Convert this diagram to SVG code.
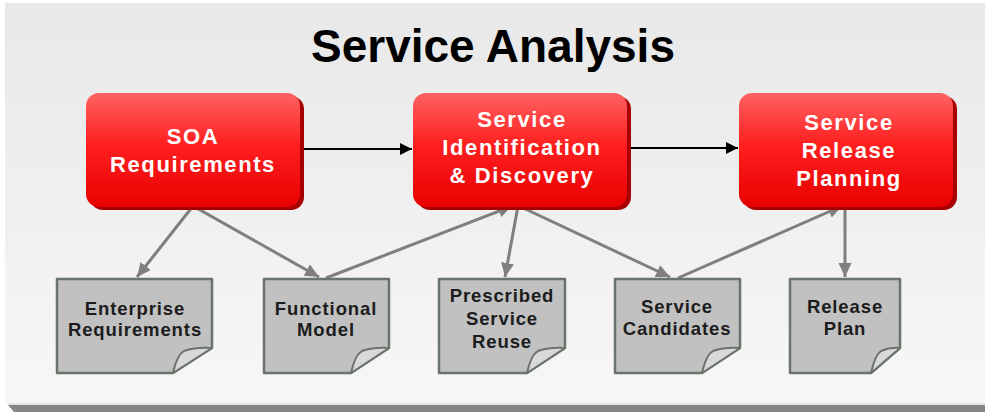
<svg xmlns="http://www.w3.org/2000/svg" width="985" height="412" viewBox="0 0 985 412">
  <defs>
    <linearGradient id="bg" x1="0" y1="0" x2="0" y2="1">
      <stop offset="0" stop-color="#e8e8e8"/>
      <stop offset="1" stop-color="#f7f7f7"/>
    </linearGradient>
    <linearGradient id="red" x1="0" y1="0" x2="0" y2="1">
      <stop offset="0" stop-color="#ff6262"/>
      <stop offset="0.45" stop-color="#ff2020"/>
      <stop offset="1" stop-color="#e80000"/>
    </linearGradient>
    <marker id="ab" markerUnits="userSpaceOnUse" markerWidth="14" markerHeight="14" refX="12" refY="6" orient="auto">
      <path d="M0,0 L12,6 L0,12 Z" fill="#000"/>
    </marker>
    <marker id="ag" markerUnits="userSpaceOnUse" markerWidth="16" markerHeight="14" refX="14" refY="6.5" orient="auto">
      <path d="M0,0 L14,6.5 L0,13 Z" fill="#7f7f7f"/>
    </marker>
  </defs>
  <style>
    .shadow { fill: #a80000; }
    .box { fill: url(#red); }
    .bt { font-family: "Liberation Sans", Arial, sans-serif; font-weight: bold; font-size: 22px; fill: #ffffff; text-anchor: middle; letter-spacing: 1.6px; }
    .doc { fill: #c1c1c1; stroke: #6a746a; stroke-width: 2.5; stroke-linejoin: round; }
    .flap { fill: #d9d9d9; stroke: #6a746a; stroke-width: 2; stroke-linejoin: round; }
    .dt { font-family: "Liberation Sans", Arial, sans-serif; font-weight: bold; font-size: 18.5px; fill: #1c1c1c; text-anchor: middle; letter-spacing: 0.9px; }
    .blk { stroke: #000; stroke-width: 2; fill: none; }
    .gry { stroke: #7f7f7f; stroke-width: 3; fill: none; }
  </style>

  <rect x="0" y="0" width="985" height="412" fill="#ffffff"/>
  <rect x="5" y="3" width="980" height="402" fill="url(#bg)"/>
  <path d="M8,405 H985 V412 H14 Z" fill="#858585"/>
  <line x1="8" y1="404" x2="985" y2="404" stroke="#cfcfcf" stroke-width="1"/>

  <text x="493" y="62" font-family="Liberation Sans, Arial, sans-serif" font-weight="bold" font-size="46" fill="#000" text-anchor="middle">Service Analysis</text>

  <g id="connectors">
    <line class="blk" x1="303" y1="149" x2="412" y2="149" marker-end="url(#ab)"/>
    <line class="blk" x1="631" y1="148" x2="738" y2="148" marker-end="url(#ab)"/>
    <line class="gry" x1="193" y1="206" x2="137" y2="277" marker-end="url(#ag)"/>
    <line class="gry" x1="193" y1="206" x2="319" y2="277" marker-end="url(#ag)"/>
    <line class="gry" x1="326" y1="278" x2="512" y2="206" marker-end="url(#ag)"/>
    <line class="gry" x1="518" y1="206" x2="505" y2="277" marker-end="url(#ag)"/>
    <line class="gry" x1="519" y1="206" x2="670" y2="277" marker-end="url(#ag)"/>
    <line class="gry" x1="678" y1="278" x2="842" y2="206" marker-end="url(#ag)"/>
    <line class="gry" x1="845" y1="206" x2="845" y2="277" marker-end="url(#ag)"/>
  </g>

  <g id="soa-requirements">
    <rect class="shadow" x="90" y="96" width="214" height="114" rx="13"/>
    <rect class="box" x="86" y="93" width="214" height="114" rx="13"/>
    <text class="bt" x="193" y="144">SOA</text>
    <text class="bt" x="193" y="172">Requirements</text>
  </g>

  <g id="service-identification">
    <rect class="shadow" x="417" y="96" width="214" height="114" rx="13"/>
    <rect class="box" x="413" y="93" width="214" height="114" rx="13"/>
    <text class="bt" x="522" y="127">Service</text>
    <text class="bt" x="522" y="155">Identification</text>
    <text class="bt" x="522" y="183">&amp; Discovery</text>
  </g>

  <g id="service-release-planning">
    <rect class="shadow" x="743" y="96" width="214" height="114" rx="13"/>
    <rect class="box" x="739" y="93" width="214" height="114" rx="13"/>
    <text class="bt" x="849" y="130">Service</text>
    <text class="bt" x="849" y="158">Release</text>
    <text class="bt" x="849" y="186">Planning</text>
  </g>

  <g id="enterprise-requirements">
    <path class="doc" d="M57,279 H212 V348 L173,373 H57 Z"/>
    <path class="flap" d="M173,373 Q177,355 184,351 Q196,347 212,348 Z"/>
    <text class="dt" x="135" y="315">Enterprise</text>
    <text class="dt" x="135" y="336">Requirements</text>
  </g>

  <g id="functional-model">
    <path class="doc" d="M264,279 H389 V348 L351,373 H264 Z"/>
    <path class="flap" d="M351,373 Q355,355 362,351 Q374,347 389,348 Z"/>
    <text class="dt" x="326" y="315">Functional</text>
    <text class="dt" x="326" y="336">Model</text>
  </g>

  <g id="prescribed-service-reuse">
    <path class="doc" d="M439,279 H565 V348 L527,373 H439 Z"/>
    <path class="flap" d="M527,373 Q531,355 538,351 Q550,347 565,348 Z"/>
    <text class="dt" x="502" y="302">Prescribed</text>
    <text class="dt" x="502" y="325">Service</text>
    <text class="dt" x="502" y="348">Reuse</text>
  </g>

  <g id="service-candidates">
    <path class="doc" d="M615,279 H740 V348 L702,373 H615 Z"/>
    <path class="flap" d="M702,373 Q706,355 713,351 Q725,347 740,348 Z"/>
    <text class="dt" x="677" y="313">Service</text>
    <text class="dt" x="677" y="335">Candidates</text>
  </g>

  <g id="release-plan">
    <path class="doc" d="M790,279 H900 V348 L871,373 H790 Z"/>
    <path class="flap" d="M871,373 Q875,355 881,351 Q890,347 900,348 Z"/>
    <text class="dt" x="845" y="313">Release</text>
    <text class="dt" x="845" y="335">Plan</text>
  </g>
</svg>
